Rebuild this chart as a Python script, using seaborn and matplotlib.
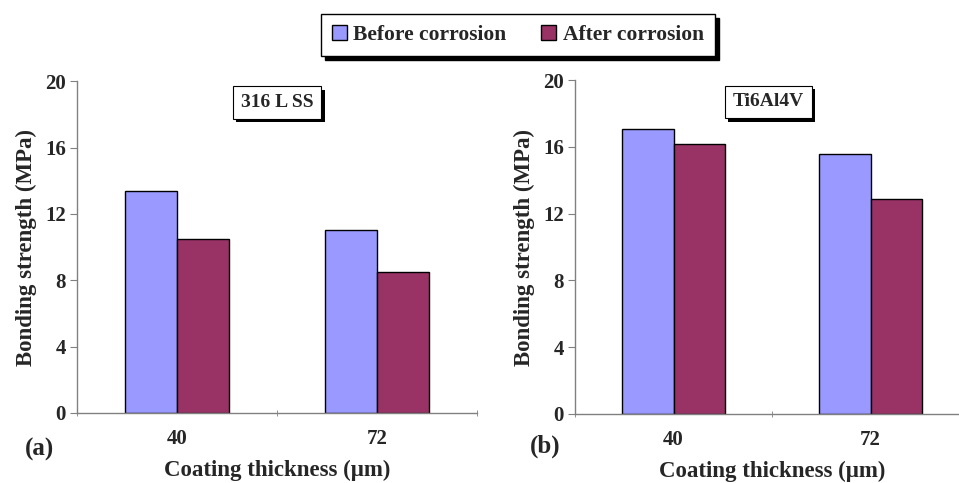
import pandas as pd
import numpy as np
import matplotlib.pyplot as plt
import matplotlib.patheffects as pe
import seaborn as sns

# valori
thickness = ['40', '72']
series = ['Before corrosion', 'After corrosion']
ss316_before = [13.4, 11.0]
ss316_after = [10.5, 8.5]
ti_before = [17.1, 15.6]
ti_after = [16.2, 12.9]

colors = ['#9999FF', '#993366']

sns.set_style('white')
plt.rcParams['font.family'] = ['Liberation Serif', 'DejaVu Serif']
plt.rcParams['font.weight'] = 'bold'


def long_df(before, after):
    return pd.DataFrame({
        'thickness': thickness * 2,
        'condition': [series[0]] * 2 + [series[1]] * 2,
        'strength': before + after,
    })


fig = plt.figure(figsize=(9.59, 4.83), dpi=100)
ax1 = fig.add_axes([0.0803, 0.145, 0.417, 0.687])
ax2 = fig.add_axes([0.5996, 0.143, 0.411, 0.691])

panels = [(ax1, long_df(ss316_before, ss316_after), '316 L SS', 0.50, 0.935),
          (ax2, long_df(ti_before, ti_after), 'Ti6Al4V', 0.49, 0.935)]

shadow = [pe.SimplePatchShadow(offset=(2.5, -2.5), shadow_rgbFace='black',
                               alpha=1.0), pe.Normal()]

for ax, df, name, bx, by in panels:
    sns.barplot(data=df, x='thickness', y='strength', hue='condition',
                palette=colors, saturation=1, edgecolor='black',
                linewidth=1.0, width=0.52, ax=ax, errorbar=None)
    ax.get_legend().remove()
    ax.set_ylim(0, 20)
    ax.set_xlim(-0.5, 1.5)
    ax.set_yticks(np.arange(0, 21, 4))
    ax.tick_params(axis='y', left=True, length=5, color='#808080',
                   labelsize=15, pad=3)
    ax.tick_params(axis='x', bottom=False, labelsize=15, pad=8)
    ax.set_xticks([-0.5, 0.5, 1.5], minor=True)
    ax.tick_params(axis='x', which='minor', bottom=True, length=5,
                   color='#808080', direction='inout')
    for lab in ax.get_xticklabels() + ax.get_yticklabels():
        lab.set_fontweight('bold')
    for s in ['top', 'right']:
        ax.spines[s].set_visible(False)
    for s in ['left', 'bottom']:
        ax.spines[s].set_color('#808080')
        ax.spines[s].set_linewidth(1.0)
    ax.set_xlabel('Coating thickness (μm)', fontsize=16.5, fontweight='bold',
                  labelpad=8)
    ax.set_ylabel('Bonding strength (MPa)', fontsize=16.5, fontweight='bold',
                  labelpad=6)
    t = ax.text(bx, by, name, transform=ax.transAxes, ha='center',
                va='center', fontsize=14, fontweight='bold',
                bbox=dict(boxstyle='square,pad=0.4', fc='white', ec='black',
                          lw=0.8))
    t.get_bbox_patch().set_path_effects(shadow)

fig.text(40 / 959, 1 - 449 / 483, '(a)', fontsize=18, fontweight='bold',
         ha='center', va='center')
fig.text(545 / 959, 1 - 446 / 483, '(b)', fontsize=18, fontweight='bold',
         ha='center', va='center')

handles, labels = ax1.get_legend_handles_labels()
leg = fig.legend(handles, labels, loc='center', bbox_to_anchor=(0.540, 0.928),
                 ncol=2, frameon=True,
                 shadow={'color': 'black', 'alpha': 1.0, 'ox': 3, 'oy': -3},
                 fancybox=False, prop={'weight': 'bold', 'size': 15.5},
                 handlelength=0.7, handleheight=0.7, handletextpad=0.3,
                 columnspacing=1.6, borderpad=0.5, edgecolor='black')
leg.get_frame().set_linewidth(1.0)

fig.savefig('out.png', dpi=100)
